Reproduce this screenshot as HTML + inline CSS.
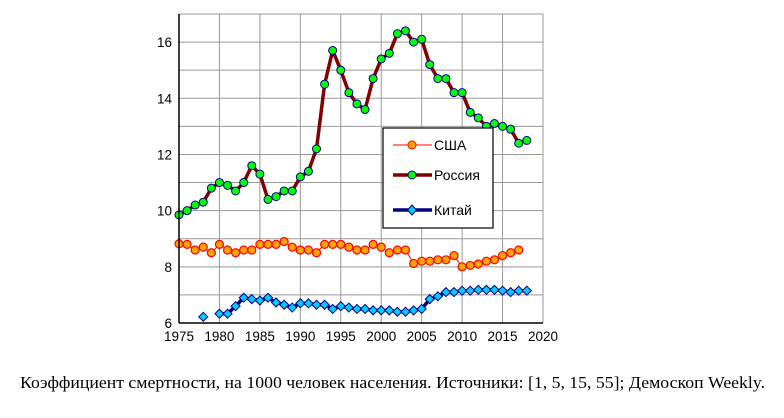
<!DOCTYPE html>
<html><head><meta charset="utf-8"><style>
body{margin:0;background:#fff;width:784px;height:413px;overflow:hidden}
svg text{font-family:"Liberation Sans",sans-serif}
</style></head><body>
<svg width="784" height="413">
<g id="grid"></g>
<g id="series"></g>
<g id="axes"></g>
<g>
<rect x="383" y="128" width="110" height="100" fill="#fff" stroke="#000" stroke-width="1.2"/>
<g>
<line x1="393" y1="145" x2="432" y2="145" stroke="#f00" stroke-width="1"/><circle cx="412" cy="145" r="4" fill="#ffa500" stroke="#f00"/>
<text x="434" y="150" font-size="14">США</text></g>
<g>
<line x1="393" y1="175" x2="432" y2="175" stroke="#800000" stroke-width="3.5"/><circle cx="412" cy="175" r="4" fill="#0f0" stroke="#008"/>
<text x="434" y="180" font-size="14">Россия</text></g>
<g>
<line x1="393" y1="210" x2="432" y2="210" stroke="#000080" stroke-width="3.5"/><path d="M412 205 L416.5 210 L412 215 L407.5 210Z" fill="#0cf" stroke="#008"/>
<text x="434" y="215" font-size="14">Китай</text></g>
</g>
<text x="20" y="388" font-size="17" textLength="745" lengthAdjust="spacingAndGlyphs" style="font-family:'Liberation Serif',serif">Коэффициент смертности, на 1000 человек населения. Источники: [1, 5, 15, 55]; Демоскоп Weekly.</text>
</svg>
<script>
const russiaYears=[1975,1976,1977,1978,1979,1980,1981,1982,1983,1984,1985,1986,1987,1988,1989,1990,1991,1992,1993,1994,1995,1996,1997,1998,1999,2000,2001,2002,2003,2004,2005,2006,2007,2008,2009,2010,2011,2012,2013,2014,2015,2016,2017,2018];
const russiaValues=[9.85,10.0,10.2,10.3,10.8,11.0,10.9,10.7,11.0,11.6,11.3,10.4,10.5,10.7,10.7,11.2,11.4,12.2,14.5,15.7,15.0,14.2,13.8,13.6,14.7,15.4,15.6,16.3,16.4,16.0,16.1,15.2,14.7,14.7,14.2,14.2,13.5,13.3,13.0,13.1,13.0,12.9,12.4,12.5];
const usaYears=[1975,1976,1977,1978,1979,1980,1981,1982,1983,1984,1985,1986,1987,1988,1989,1990,1991,1992,1993,1994,1995,1996,1997,1998,1999,2000,2001,2002,2003,2004,2005,2006,2007,2008,2009,2010,2011,2012,2013,2014,2015,2016,2017];
const usaValues=[8.82,8.8,8.6,8.7,8.5,8.8,8.6,8.5,8.6,8.6,8.8,8.8,8.8,8.9,8.7,8.6,8.6,8.5,8.8,8.8,8.8,8.7,8.6,8.6,8.8,8.7,8.5,8.6,8.6,8.12,8.2,8.2,8.25,8.25,8.4,8.0,8.05,8.1,8.2,8.25,8.4,8.5,8.6];
const chinaYears=[1978,1979,1980,1981,1982,1983,1984,1985,1986,1987,1988,1989,1990,1991,1992,1993,1994,1995,1996,1997,1998,1999,2000,2001,2002,2003,2004,2005,2006,2007,2008,2009,2010,2011,2012,2013,2014,2015,2016,2017,2018];
const chinaValues=[6.22,null,6.33,6.33,6.6,6.9,6.85,6.8,6.9,6.73,6.65,6.55,6.7,6.7,6.65,6.65,6.5,6.6,6.55,6.5,6.5,6.45,6.45,6.45,6.4,6.4,6.45,6.5,6.85,6.95,7.1,7.1,7.15,7.15,7.18,7.18,7.18,7.15,7.1,7.15,7.15];
const xTicks=[1975,1980,1985,1990,1995,2000,2005,2010,2015,2020];
const yTicks=[6,8,10,12,14,16];
const L=179,R=543,T=14,B=323,X0=1975,X1=2020,Y0=6,Y1=17;
const sx=v=>L+(v-X0)/(X1-X0)*(R-L), sy=v=>B-(v-Y0)/(Y1-Y0)*(B-T);
const NS='http://www.w3.org/2000/svg';
function mk(p,t,a){const e=document.createElementNS(NS,t);for(const k in a)e.setAttribute(k,a[k]);p.appendChild(e);return e;}
const grid=document.getElementById('grid'),axes=document.getElementById('axes'),ser=document.getElementById('series');
for(let v=Y0;v<=Y1;v++){const l=mk(grid,'line',{x1:L,x2:R,y1:sy(v),y2:sy(v),stroke:'#999','stroke-width':1});

}
xTicks.forEach(v=>{const l=mk(grid,'line',{x1:sx(v),x2:sx(v),y1:T,y2:B,stroke:'#999','stroke-width':1});


const t=mk(axes,'text',{x:sx(v),y:B+18,'font-size':13.5,'text-anchor':'middle'});t.textContent=v;

});
yTicks.forEach(v=>{const t=mk(axes,'text',{x:L-7,y:sy(v)+5,'font-size':13.5,'text-anchor':'end'});t.textContent=v;

});
mk(axes,'line',{x1:L,x2:L,y1:T,y2:B,stroke:'#000','stroke-width':1.5});
mk(axes,'line',{x1:L,x2:R,y1:B,y2:B,stroke:'#000','stroke-width':1.5});
function line(xs,vs,color,w,name){let d='',pen=false;xs.forEach((x,i)=>{if(vs[i]==null){pen=false;return;}d+=(pen?'L':'M')+sx(x)+' '+sy(vs[i]);pen=true;});
const p=mk(ser,'path',{d:d,fill:'none',stroke:color,'stroke-width':w,'stroke-linejoin':'round'});

}
line(usaYears,usaValues,'#f00',1,'usa-line');
line(russiaYears,russiaValues,'#800000',3.5,'russia-line');
line(chinaYears,chinaValues,'#000080',3.5,'china-line');
usaYears.forEach((x,i)=>{const c=mk(ser,'circle',{cx:sx(x),cy:sy(usaValues[i]),r:4,fill:'#ffa500',stroke:'#f00','stroke-width':1.2});

});
russiaYears.forEach((x,i)=>{const c=mk(ser,'circle',{cx:sx(x),cy:sy(russiaValues[i]),r:4,fill:'#0f0',stroke:'#008','stroke-width':1});

});
chinaYears.forEach((x,i)=>{if(chinaValues[i]==null)return;const cx=sx(x),cy=sy(chinaValues[i]);
const p=mk(ser,'path',{d:`M${cx} ${cy-4.5}L${cx+4.5} ${cy}L${cx} ${cy+4.5}L${cx-4.5} ${cy}Z`,fill:'#0cf',stroke:'#008','stroke-width':1});

});
</script>
</body></html>
